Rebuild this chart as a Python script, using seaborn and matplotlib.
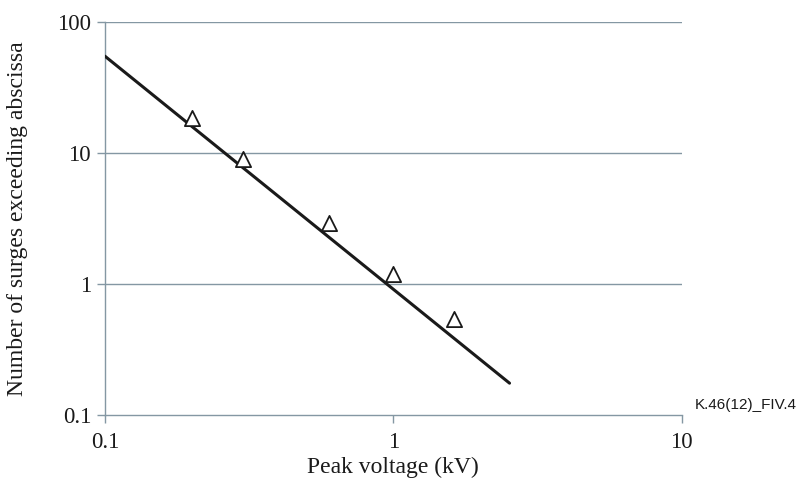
import matplotlib
matplotlib.use("Agg")
import matplotlib.pyplot as plt
import seaborn as sns
import pandas as pd
from matplotlib.ticker import FixedLocator, FixedFormatter, NullLocator

# Data
fit_voltage = [0.1, 2.53]
fit_surges = [55.0, 0.175]
meas_voltage = [0.2, 0.3, 0.6, 1.0, 1.62]
meas_surges = [18.5, 9.0, 2.92, 1.19, 0.54]
x_ticks = [0.1, 1, 10]
x_labels = ["0.1", "1", "10"]
y_ticks = [0.1, 1, 10, 100]
y_labels = ["0.1", "1", "10", "100"]

sns.set_style("white")
plt.rcParams['font.family'] = ['Liberation Serif', 'DejaVu Serif']

fig = plt.figure(figsize=(8.01, 4.82), dpi=100)
ax = fig.add_axes([0.131, 0.139, 0.72, 0.815])

grid_c = "#8497a3"
ax.set_xscale("log")
ax.set_yscale("log")
ax.set_xlim(0.1, 10)
ax.set_ylim(0.1, 100)

for yv in y_ticks[1:]:
    ax.axhline(yv, color=grid_c, lw=1.0, zorder=1)

fit_df = pd.DataFrame({"v": fit_voltage, "n": fit_surges})
meas_df = pd.DataFrame({"v": meas_voltage, "n": meas_surges})
sns.lineplot(data=fit_df, x="v", y="n", ax=ax, color="#1a1a1a", lw=2.2, zorder=3)
sns.scatterplot(data=meas_df, x="v", y="n", ax=ax, marker="^", s=120,
                facecolor="white", edgecolor="#1a1a1a", linewidth=1.3, zorder=4)

ax.xaxis.set_major_locator(FixedLocator(x_ticks))
ax.xaxis.set_major_formatter(FixedFormatter(x_labels))
ax.xaxis.set_minor_locator(NullLocator())
ax.yaxis.set_major_locator(FixedLocator(y_ticks))
ax.yaxis.set_major_formatter(FixedFormatter(y_labels))
ax.yaxis.set_minor_locator(NullLocator())

for s in ["top", "right"]:
    ax.spines[s].set_visible(False)
for s in ["left", "bottom"]:
    ax.spines[s].set_color(grid_c)
    ax.spines[s].set_linewidth(1.0)

ax.tick_params(axis="both", which="major", direction="out", length=6, width=1.0,
               color=grid_c, labelsize=16.5, labelcolor="#1a1a1a", bottom=True, left=True)
ax.tick_params(axis="x", pad=6)
ax.tick_params(axis="y", pad=4)

ax.set_xlabel("Peak voltage (kV)", fontsize=17, color="#1a1a1a")
ax.set_ylabel("Number of surges exceeding abscissa", fontsize=17, color="#1a1a1a")
ax.xaxis.label.set_va("center")
ax.yaxis.label.set_va("center")
ax.xaxis.set_label_coords(0.5, -0.134)
ax.yaxis.set_label_coords(-0.151, 0.5)

fig.text(0.995, 0.160, "K.46(12)_FIV.4", ha="right", va="center", fontsize=11,
         family=["Liberation Sans", "DejaVu Sans"], color="#1a1a1a")

fig.savefig("out.png", dpi=100)
